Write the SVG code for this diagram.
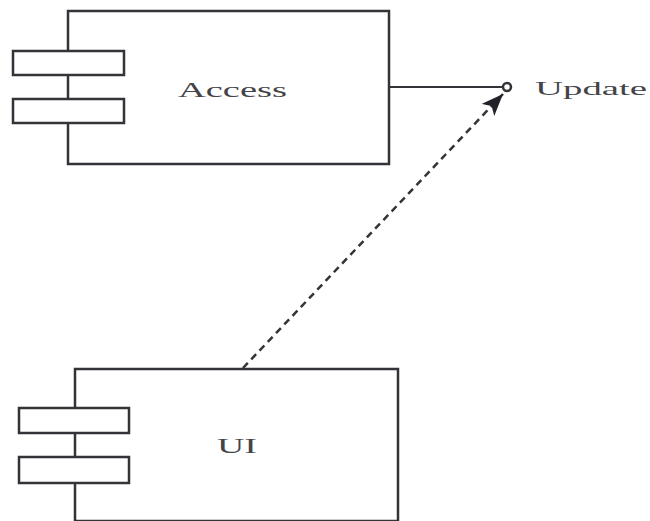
<svg xmlns="http://www.w3.org/2000/svg" width="650" height="521" viewBox="0 0 650 521">
<style>
.box{fill:#ffffff;stroke:#333338;stroke-width:2.5}
.port{fill:#ffffff;stroke:#333338;stroke-width:2.5}
.lbl{font-family:"Liberation Serif","DejaVu Serif",serif;fill:#444448}
.conn{stroke:#333338;stroke-width:2;fill:none}
.dep{stroke:#333338;stroke-width:2.5;fill:none;stroke-dasharray:7,5}
</style>
<defs>
<marker id="arrow" viewBox="0 0 20 16" refX="20" refY="8" markerWidth="22" markerHeight="18" markerUnits="userSpaceOnUse" orient="auto">
<path d="M0,0 L20,8 L0,16 L5,8 z" fill="#222228"/>
</marker>
</defs>
<rect width="650" height="521" fill="#ffffff"/>
<g id="access">
<rect class="box" x="68" y="11" width="321" height="153"/>
<rect class="port" x="13" y="51" width="111" height="24"/>
<rect class="port" x="13" y="99" width="111" height="24"/>
<text class="lbl" x="178" y="97" font-size="21" textLength="109" lengthAdjust="spacingAndGlyphs">Access</text>
</g>
<g id="update">
<circle cx="507" cy="87" r="4" fill="#ffffff" stroke="#333338" stroke-width="2.5"/>
<text class="lbl" x="535" y="95" font-size="19" textLength="112" lengthAdjust="spacingAndGlyphs">Update</text>
</g>
<g id="ui">
<rect class="box" x="75" y="369" width="323" height="152"/>
<rect class="port" x="19" y="408" width="110" height="25"/>
<rect class="port" x="19" y="457" width="110" height="26"/>
<text class="lbl" x="217" y="453" font-size="22" textLength="40" lengthAdjust="spacingAndGlyphs">UI</text>
</g>
<g id="connectors">
<line class="conn" x1="389" y1="87" x2="503" y2="87"/>
<line class="dep" x1="243" y1="368" x2="503" y2="94" marker-end="url(#arrow)"/>
</g>
</svg>
